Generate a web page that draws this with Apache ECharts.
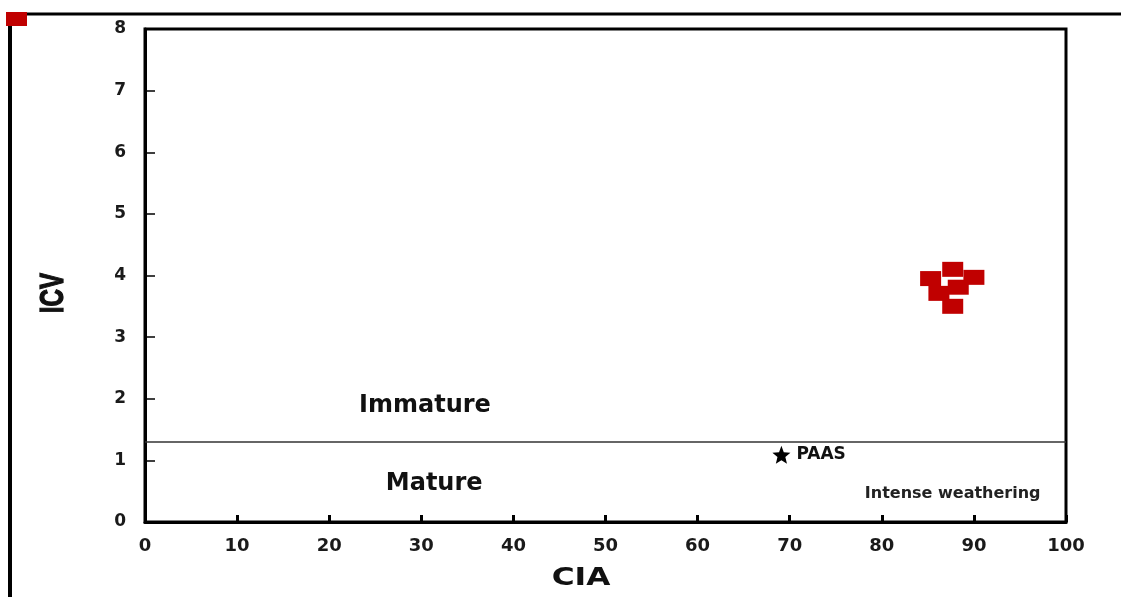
<!DOCTYPE html>
<html>
<head>
<meta charset="utf-8">
<script src="https://cdn.jsdelivr.net/npm/echarts@6/dist/echarts.min.js"></script>
<style>html,body{margin:0;padding:0;background:#fff}#c{width:1121px;height:597px}</style>
</head>
<body>
<div id="c"></div>
<script>
// Data
const samplesCIA = [87.7, 85.3, 90.0, 88.3, 86.2, 87.7];
const samplesICV = [4.10, 3.95, 3.97, 3.81, 3.71, 3.50];
const paas = [69.1, 1.09];
const thresholdICV = 1.3;
const xTicks = [0, 100, 10];
const yTicks = [0, 8, 1];
const zoneLabels = ['Immature', 'Mature', 'Intense weathering'];
const zonePos = [[30.4, 1.88], [31.4, 0.62], [87.7, 0.46]];
const axisTitles = ['CIA', 'ICV'];

const chart = echarts.init(document.getElementById('c'));
const dv = '"DejaVu Sans", Verdana, sans-serif';
const lib = '"Liberation Sans", Arial, sans-serif';
const star = 'path://M12,1 L14.9,8.6 23,9.2 16.8,14.4 18.8,22.4 12,18 5.2,22.4 7.2,14.4 1,9.2 9.1,8.6Z';

chart.setOption({
  animation: false,
  backgroundColor: '#fff',
  grid: { left: 145, top: 29, width: 921, height: 493, show: true, borderColor: '#000', borderWidth: 3, backgroundColor: 'transparent' },
  xAxis: {
    type: 'value', min: xTicks[0], max: xTicks[1], interval: xTicks[2],
    axisLine: { show: true, lineStyle: { color: '#000', width: 3 } },
    axisTick: { show: true, inside: true, length: 7, lineStyle: { color: '#000', width: 3 } },
    axisLabel: { margin: 15, fontFamily: dv, fontWeight: 'bold', fontSize: 18, color: '#1a1a1a' },
    splitLine: { show: false }
  },
  yAxis: {
    type: 'value', min: yTicks[0], max: yTicks[1], interval: yTicks[2],
    axisLine: { show: true, lineStyle: { color: '#000', width: 3 } },
    axisTick: { show: true, inside: true, length: 10, lineStyle: { color: '#000', width: 1.5 } },
    axisLabel: { margin: 19, fontFamily: dv, fontWeight: 'bold', fontSize: 17, color: '#1a1a1a' },
    splitLine: { show: false }
  },
  series: [
    {
      type: 'scatter',
      data: samplesCIA.map((c, i) => [c, samplesICV[i]]),
      symbol: 'rect', symbolSize: [21, 15],
      itemStyle: { color: '#c00000', opacity: 1 },
      z: 5,
      markLine: {
        silent: true, symbol: 'none', label: { show: false },
        lineStyle: { color: '#333', width: 1.5, type: 'solid' },
        data: [{ yAxis: thresholdICV }]
      }
    },
    {
      type: 'scatter',
      data: [paas],
      symbol: star, symbolSize: 18,
      itemStyle: { color: '#000', opacity: 1 },
      label: { show: true, position: 'right', distance: 6, formatter: 'PAAS',
        fontFamily: dv, fontWeight: 'bold', fontSize: 17, color: '#111' }
    },
    {
      type: 'scatter',
      symbolSize: 0,
      itemStyle: { opacity: 1 },
      data: zonePos.map((p, i) => ({
        value: p, name: zoneLabels[i],
        label: i === 2
          ? { fontFamily: dv, fontWeight: 'bold', fontSize: 16, color: '#222' }
          : { fontFamily: dv, fontWeight: 'bold', fontSize: 24, color: '#111' }
      })),
      label: { show: true, position: 'inside', formatter: p => p.name, opacity: 1 }
    }
  ],
  graphic: [
    { type: 'line', shape: { x1: 10, y1: 14, x2: 1121, y2: 14 }, style: { stroke: '#000', lineWidth: 3 } },
    { type: 'line', shape: { x1: 10, y1: 14, x2: 10, y2: 597 }, style: { stroke: '#000', lineWidth: 4 } },
    { type: 'rect', shape: { x: 6, y: 12, width: 21, height: 14 }, style: { fill: '#c00000' } },
    { type: 'text', x: 581, y: 579, scaleX: 1.3,
      style: { text: axisTitles[0], font: 'bold 24px ' + dv, fill: '#111', align: 'center', verticalAlign: 'middle' } },
    { type: 'text', x: 54, y: 293, rotation: Math.PI / 2, scaleX: 0.78, scaleY: 1.05,
      style: { text: axisTitles[1], font: 'bold 31px ' + lib, fill: '#111', stroke: '#111', lineWidth: 1.2, align: 'center', verticalAlign: 'middle' } }
  ]
});
</script>
</body>
</html>
